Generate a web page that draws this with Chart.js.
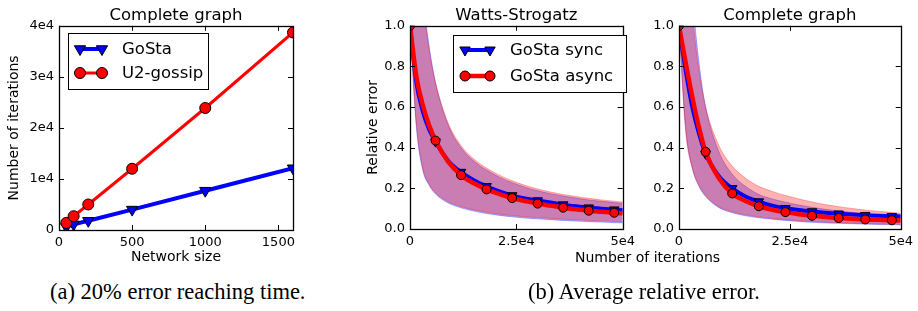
<!DOCTYPE html>
<html>
<head>
<meta charset="utf-8">
<script src="https://cdn.jsdelivr.net/npm/chart.js@4/dist/chart.umd.min.js"></script>
<style>
  body { margin: 0; background: #fff; width: 918px; height: 311px; position: relative; overflow: hidden; }
  canvas { position: absolute; top: 0; }
  .cap { position: absolute; font-family: "Liberation Serif", serif; font-size: 22.5px; color: #000; white-space: nowrap; line-height: 26px; }
  .xlab { position: absolute; font-family: "DejaVu Sans", sans-serif; font-size: 14px; color: #000; white-space: nowrap; line-height: 16px; }
</style>
</head>
<body>
<canvas id="c1" width="305" height="268" style="left:0px"></canvas>
<canvas id="c2" width="300" height="268" style="left:340px"></canvas>
<canvas id="c3" width="298" height="268" style="left:620px"></canvas>
<div class="xlab" style="left:575px; top:249px">Number of iterations</div>
<div class="cap" style="left:50px; top:279px">(a) 20% error reaching time.</div>
<div class="cap" style="left:528px; top:279px">(b) Average relative error.</div>
<script>
// ---- panel (a): iterations needed vs network size
const sizes = [50, 100, 200, 500, 1000, 1600];
const gostaIters = [600, 1100, 1800, 4000, 7700, 12100];
const u2Iters = [1400, 2700, 5000, 12000, 23900, 38700];
const sizeTicks = [0, 500, 1000, 1500];
const iterTicks = [0, 10000, 20000, 30000, 40000];
const iterTickLabels = ["0", "1e4", "2e4", "3e4", "4e4"];

// ---- panel (b): relative error vs iterations
const iters = [0, 1500, 3000, 4500, 6000, 9000, 12000, 15000, 18000, 21000, 24000,
  27000, 30000, 33000, 36000, 39000, 42000, 45000, 48000, 50000];
const markerIters = [0, 6000, 12000, 18000, 24000, 30000, 36000, 42000, 48000];

// Watts-Strogatz
const wsSync = [1.0, 0.72, 0.58, 0.49, 0.43, 0.335, 0.28, 0.24, 0.21, 0.185, 0.165,
  0.15, 0.14, 0.13, 0.12, 0.112, 0.105, 0.1, 0.095, 0.092];
const wsAsync = [1.0, 0.75, 0.61, 0.51, 0.435, 0.33, 0.265, 0.225, 0.195, 0.172, 0.152,
  0.138, 0.125, 0.115, 0.105, 0.097, 0.09, 0.085, 0.08, 0.077];
const wsSyncHigh = [1.0, 1.5, 1.15, 0.9, 0.72, 0.51, 0.4, 0.335, 0.29, 0.255, 0.228,
  0.206, 0.188, 0.174, 0.162, 0.152, 0.143, 0.136, 0.13, 0.126];
const wsSyncLow = [1.0, 0.5, 0.29, 0.215, 0.172, 0.128, 0.104, 0.088, 0.076, 0.067, 0.06,
  0.054, 0.05, 0.046, 0.042, 0.039, 0.036, 0.034, 0.031, 0.03];
const wsAsyncHigh = [1.0, 1.4, 1.12, 0.88, 0.72, 0.52, 0.41, 0.345, 0.3, 0.265, 0.237,
  0.215, 0.197, 0.182, 0.17, 0.16, 0.151, 0.143, 0.137, 0.133];
const wsAsyncLow = [1.0, 0.52, 0.3, 0.22, 0.178, 0.134, 0.11, 0.094, 0.082, 0.073, 0.066,
  0.06, 0.056, 0.052, 0.048, 0.045, 0.042, 0.04, 0.037, 0.036];

// Complete graph
const cgSync = [1.0, 0.78, 0.6, 0.47, 0.37, 0.26, 0.2, 0.16, 0.135, 0.115, 0.102,
  0.093, 0.086, 0.08, 0.075, 0.071, 0.068, 0.065, 0.063, 0.062];
const cgAsync = [1.0, 0.82, 0.65, 0.5, 0.38, 0.25, 0.175, 0.138, 0.112, 0.095, 0.083,
  0.073, 0.065, 0.059, 0.054, 0.05, 0.047, 0.045, 0.043, 0.042];
const cgSyncHigh = [1.0, 1.6, 1.15, 0.82, 0.6, 0.38, 0.27, 0.21, 0.17, 0.148, 0.132,
  0.118, 0.107, 0.097, 0.089, 0.082, 0.076, 0.071, 0.067, 0.064];
const cgSyncLow = [1.0, 0.5, 0.3, 0.21, 0.16, 0.105, 0.08, 0.065, 0.055, 0.048, 0.042,
  0.037, 0.033, 0.03, 0.028, 0.026, 0.024, 0.022, 0.021, 0.02];
const cgAsyncHigh = [1.0, 1.4, 1.05, 0.78, 0.6, 0.41, 0.31, 0.25, 0.21, 0.185, 0.165,
  0.148, 0.133, 0.12, 0.11, 0.101, 0.093, 0.087, 0.081, 0.077];
const cgAsyncLow = [1.0, 0.48, 0.3, 0.215, 0.165, 0.11, 0.085, 0.07, 0.06, 0.052, 0.046,
  0.041, 0.037, 0.034, 0.031, 0.029, 0.027, 0.025, 0.024, 0.023];

const timeTicks = [0, 25000, 50000];
const timeTickLabels = ["0", "2.5e4", "5e4"];
const errTicks = [0, 0.2, 0.4, 0.6, 0.8, 1.0];
const errTickLabels = ["0.0", "0.2", "0.4", "0.6", "0.8", "1.0"];

const BLUE = "#0000ff";
const RED = "#ff0000";
const BLUE_BAND = "rgba(0,0,255,0.3)";
const RED_BAND = "rgba(255,0,0,0.3)";

Chart.defaults.font.family = "DejaVu Sans";
Chart.defaults.color = "#000";

const pts = (xs, ys) => xs.map((x, i) => ({ x: x, y: ys[i] }));

// box around the plot with inward ticks on all four sides (matplotlib look)
const frameTicks = {
  id: "frameTicks",
  afterDatasetsDraw(chart) {
    const { ctx, chartArea: a, scales } = chart;
    ctx.save();
    ctx.strokeStyle = "#000";
    ctx.lineWidth = 1;
    const L = 5;
    scales.x.ticks.forEach((t) => {
      const px = Math.round(scales.x.getPixelForValue(t.value)) + 0.5;
      ctx.beginPath();
      ctx.moveTo(px, a.bottom); ctx.lineTo(px, a.bottom - L);
      ctx.moveTo(px, a.top); ctx.lineTo(px, a.top + L);
      ctx.stroke();
    });
    scales.y.ticks.forEach((t) => {
      const py = Math.round(scales.y.getPixelForValue(t.value)) + 0.5;
      ctx.beginPath();
      ctx.moveTo(a.left, py); ctx.lineTo(a.left + L, py);
      ctx.moveTo(a.right, py); ctx.lineTo(a.right - L, py);
      ctx.stroke();
    });
    ctx.lineWidth = 1.3;
    ctx.strokeRect(Math.round(a.left) + 0.5, Math.round(a.top) + 0.5,
      Math.round(a.right - a.left), Math.round(a.bottom - a.top));
    ctx.restore();
  },
};

function drawMarker(ctx, style, x, y, r, color) {
  ctx.fillStyle = color;
  ctx.strokeStyle = "#000";
  ctx.lineWidth = 1;
  ctx.beginPath();
  if (style === "circle") {
    ctx.arc(x, y, r, 0, Math.PI * 2);
  } else {
    ctx.moveTo(x - r * 0.866, y - r * 0.5);
    ctx.lineTo(x + r * 0.866, y - r * 0.5);
    ctx.lineTo(x, y + r);
    ctx.closePath();
  }
  ctx.fill();
  ctx.stroke();
}

// framed legend inside the axes, line sample with a marker at each end
const boxLegend = {
  id: "boxLegend",
  afterDraw(chart, args, o) {
    if (!o.rows) return;
    const ctx = chart.ctx;
    ctx.save();
    ctx.fillStyle = "#fff";
    ctx.strokeStyle = "#000";
    ctx.lineWidth = 1;
    ctx.fillRect(o.x, o.y, o.w, o.h);
    ctx.strokeRect(o.x + 0.5, o.y + 0.5, o.w, o.h);
    o.rows.forEach((idx, i) => {
      const ds = chart.data.datasets[idx];
      const y = o.rowY[i];
      ctx.strokeStyle = ds.borderColor;
      ctx.lineWidth = ds.borderWidth;
      ctx.beginPath();
      ctx.moveTo(o.x0, y);
      ctx.lineTo(o.x1, y);
      ctx.stroke();
      const r = o.markR[i];
      drawMarker(ctx, ds.pointStyle, o.x0, y, r, ds.pointBackgroundColor);
      drawMarker(ctx, ds.pointStyle, o.x1, y, r, ds.pointBackgroundColor);
      ctx.fillStyle = "#000";
      ctx.font = o.fontSize + "px 'DejaVu Sans'";
      ctx.textBaseline = "middle";
      ctx.fillText(ds.label, o.textX, y + 1);
    });
    ctx.restore();
  },
};

const setTicks = (values) => (scale) => {
  scale.ticks = values.map((v) => ({ value: v }));
};
const labelFrom = (values, labels) => (v) => {
  const i = values.findIndex((t) => Math.abs(t - v) < 1e-9);
  return i >= 0 ? labels[i] : "";
};

function axisX(min, max, ticks, labels, title, h) {
  return {
    type: "linear", min: min, max: max,
    afterBuildTicks: setTicks(ticks),
    afterFit: (s) => { s.height = h; },
    grid: { display: false, drawTicks: false },
    border: { display: false },
    ticks: { font: { size: 13 }, padding: 5, maxRotation: 0, callback: labelFrom(ticks, labels) },
    title: { display: !!title, text: title, font: { size: 14 }, padding: { top: 0, bottom: 2 } },
  };
}
function axisY(min, max, ticks, labels, title, w, titlePad) {
  return {
    type: "linear", min: min, max: max,
    afterBuildTicks: setTicks(ticks),
    afterFit: (s) => { s.width = w; },
    grid: { display: false, drawTicks: false },
    border: { display: false },
    ticks: { font: { size: 13 }, padding: 5, callback: labelFrom(ticks, labels) },
    title: { display: !!title, text: title, font: { size: 14 }, padding: { top: titlePad, bottom: titlePad } },
  };
}
const titleOpts = (text) => ({
  display: true, text: text, color: "#000", fullSize: false,
  font: { size: 16.5, weight: "normal" }, padding: { top: 6, bottom: 0 },
});

// ---------- chart (a)
new Chart(document.getElementById("c1"), {
  type: "line",
  data: {
    datasets: [
      {
        label: "GoSta", data: pts(sizes, gostaIters),
        borderColor: BLUE, borderWidth: 4, pointStyle: "triangle", pointRotation: 180,
        pointRadius: 6.5, pointBackgroundColor: BLUE, pointBorderColor: "#000",
        pointBorderWidth: 1, order: 1,
      },
      {
        label: "U2-gossip", data: pts(sizes, u2Iters),
        borderColor: RED, borderWidth: 3, pointStyle: "circle",
        pointRadius: 5.5, pointBackgroundColor: RED, pointBorderColor: "#000",
        pointBorderWidth: 1, order: 0,
      },
    ],
  },
  options: {
    responsive: false, animation: false,
    layout: { padding: { left: 0, right: 12, top: 0, bottom: 0 } },
    plugins: {
      legend: { display: false }, tooltip: { enabled: false },
      title: titleOpts("Complete graph"),
      boxLegend: { x: 68, y: 33, w: 140, h: 56, x0: 80, x1: 102, textX: 122, rowY: [49, 73], markR: [6.5, 5.5], fontSize: 16.5, rows: [0, 1] },
    },
    scales: {
      x: axisX(0, 1600, sizeTicks, sizeTicks.map(String), "Network size", 38),
      y: axisY(0, 40000, iterTicks, iterTickLabels, "Number of iterations", 59, 6),
    },
  },
  plugins: [frameTicks, boxLegend],
});

// ---------- charts (b)
function errDatasets(sync, async, syncHi, syncLo, asyncHi, asyncLo) {
  const mark = (r) => (c) => (markerIters.includes(iters[c.dataIndex]) ? r : 0);
  const band = (d, color, fill, order) => ({
    label: "", data: pts(iters, d), borderColor: color, backgroundColor: color,
    borderWidth: 1, pointRadius: 0, fill: fill, order: order, cubicInterpolationMode: "monotone",
  });
  return [
    {
      label: "GoSta sync", data: pts(iters, sync),
      borderColor: BLUE, borderWidth: 4, pointStyle: "triangle", pointRotation: 180,
      pointRadius: mark(5.5), pointBackgroundColor: BLUE, pointBorderColor: "#000",
      pointBorderWidth: 1, order: 1, cubicInterpolationMode: "monotone",
    },
    {
      label: "GoSta async", data: pts(iters, async),
      borderColor: RED, borderWidth: 4.5, pointStyle: "circle",
      pointRadius: mark(4.5), pointBackgroundColor: RED, pointBorderColor: "#000",
      pointBorderWidth: 1, order: 0, cubicInterpolationMode: "monotone",
    },
    band(syncHi, BLUE_BAND, "+1", 3),
    band(syncLo, BLUE_BAND, false, 3),
    band(asyncHi, RED_BAND, "+1", 2),
    band(asyncLo, RED_BAND, false, 2),
  ];
}

function errChart(id, title, datasets, yTitle, yw, titlePad, padRight, legend) {
  new Chart(document.getElementById(id), {
    type: "line",
    data: { datasets: datasets },
    options: {
      responsive: false, animation: false,
      layout: { padding: { left: 0, right: padRight, top: 0, bottom: 0 } },
      plugins: {
        legend: { display: false }, tooltip: { enabled: false },
        title: titleOpts(title),
        boxLegend: legend || {},
      },
      scales: {
        x: axisX(0, 50000, timeTicks, timeTickLabels, "", 39),
        y: axisY(0, 1, errTicks, errTickLabels, yTitle, yw, titlePad),
      },
    },
    plugins: [frameTicks, boxLegend],
  });
}

errChart("c2", "Watts-Strogatz",
  errDatasets(wsSync, wsAsync, wsSyncHigh, wsSyncLow, wsAsyncHigh, wsAsyncLow),
  "Relative error", 70, 25, 5,
  { x: 113, y: 35, w: 173, h: 57, x0: 125, x1: 150, textX: 170, rowY: [50, 76], markR: [6, 5], fontSize: 16.5, rows: [0, 1] });
errChart("c3", "Complete graph",
  errDatasets(cgSync, cgAsync, cgSyncHigh, cgSyncLow, cgAsyncHigh, cgAsyncLow),
  "", 59, 0, 15, null);
</script>
</body>
</html>
